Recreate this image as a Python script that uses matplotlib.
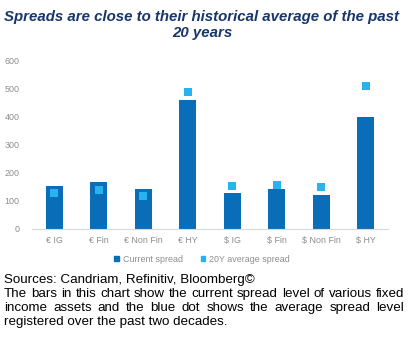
import matplotlib
matplotlib.use("Agg")
import matplotlib.pyplot as plt
from matplotlib.patches import Patch

categories = ["€ IG", "€ Fin", "€ Non Fin", "€ HY", "$ IG", "$ Fin", "$ Non Fin", "$ HY"]
current_spread = [153, 168, 143, 461, 129, 143, 121, 400]
avg_20y = [129, 139, 118, 490, 153, 157, 150, 511]
yticks = [0, 100, 200, 300, 400, 500, 600]

title = "Spreads are close to their historical average of the past\n20 years"
source_line = "Sources: Candriam, Refinitiv, Bloomberg©"
note_lines = [
    "The bars in this chart show the current spread level of various fixed",
    "income assets and the blue dot shows the average spread level",
    "registered over the past two decades.",
]

BAR = "#0A6DB7"
DOT = "#27B4EE"
GRAY = "#8C8C8C"
NAVY = "#17366A"

W, H = 413, 340
fig = plt.figure(figsize=(W / 100, H / 100), dpi=100)
plt.rcParams["font.family"] = ["Liberation Sans", "DejaVu Sans"]

ax = fig.add_axes([32 / W, 1 - 229 / H, (388 - 32) / W, (229 - 61) / H])
x = list(range(len(categories)))
ax.bar(x, current_spread, width=0.38, color=BAR, zorder=2)
ax.scatter(x, avg_20y, marker="s", s=40, color=DOT, zorder=3, linewidths=0)
ax.set_xlim(-0.5, len(categories) - 0.5)
ax.set_ylim(0, 600)
ax.set_yticks(yticks)
ax.set_yticklabels([str(v) for v in yticks], fontsize=6.4, color=GRAY)
ax.set_xticks(x)
ax.set_xticklabels(categories, fontsize=6.4, color=GRAY)
ax.tick_params(axis="both", length=0, pad=5)
ax.tick_params(axis="y", pad=9)
for s in ["top", "right", "left"]:
    ax.spines[s].set_visible(False)
ax.spines["bottom"].set_color("#D9D9D9")
ax.spines["bottom"].set_linewidth(0.8)

handles = [Patch(color=BAR), Patch(color=DOT)]
leg = fig.legend(handles, ["Current spread", "20Y average spread"],
                 loc="center", bbox_to_anchor=(202 / W, 1 - 259 / H),
                 ncol=2, frameon=False, fontsize=6.4, handlelength=0.55,
                 handleheight=0.55, handletextpad=0.4, columnspacing=2.0)
for t in leg.get_texts():
    t.set_color(GRAY)

fig.text(202 / W, 1 - 25 / H, title, ha="center", va="center",
         fontsize=10.8, fontweight="bold", fontstyle="italic", color=NAVY,
         linespacing=1.1)

# footnote text, justified lines
fig.canvas.draw()
renderer = fig.canvas.get_renderer()
fs = 9.6
left, right = 4, 404
ys = [280, 294, 308, 322]

def place_line(text, y, justify):
    words = text.split(" ")
    if not justify:
        fig.text(left / W, 1 - y / H, text, ha="left", va="center", fontsize=fs, color="black")
        return
    tobjs = [fig.text(0, 1 - y / H, w, ha="left", va="center", fontsize=fs, color="black") for w in words]
    widths = [t.get_window_extent(renderer).width for t in tobjs]
    gap = (right - left - sum(widths)) / (len(words) - 1)
    pos = left
    for t, wdt in zip(tobjs, widths):
        t.set_x(pos / W)
        pos += wdt + gap

place_line(source_line, ys[0], False)
place_line(note_lines[0], ys[1], True)
place_line(note_lines[1], ys[2], True)
place_line(note_lines[2], ys[3], False)

fig.savefig("out.png", dpi=100)
